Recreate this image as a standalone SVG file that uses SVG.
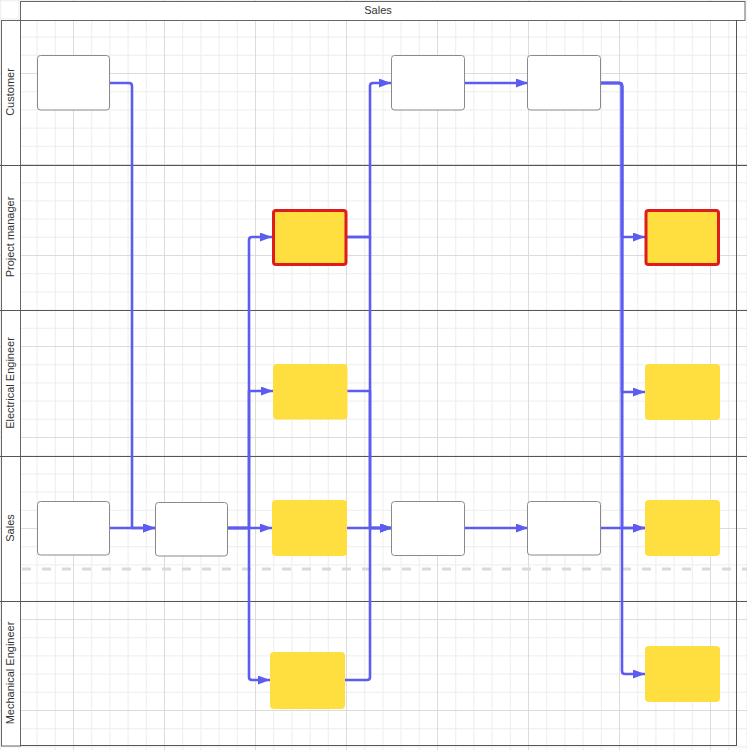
<svg xmlns="http://www.w3.org/2000/svg" width="747" height="750" viewBox="0 0 747 750">
<style>
.lbl{font-family:"Liberation Sans",Arial,sans-serif;font-size:11px;fill:#333;text-anchor:middle;dominant-baseline:central}
.wn{fill:#fff;stroke:#8a8a8a;stroke-width:1}
.yn{fill:#FFDF40;stroke:none}
.rn{fill:#FFDF40;stroke:#E01B1B;stroke-width:3}
.ln{stroke:#555;stroke-width:1;fill:none}
.cn{fill:none;stroke:#5d5cf0;stroke-width:2.6;stroke-linejoin:round;marker-end:url(#ah)}
</style>
<defs>
<pattern id="grid" patternUnits="userSpaceOnUse" x="73" y="73" width="91" height="91">
<rect x="0" y="0" width="91" height="91" fill="#fff"/>
<rect x="18.2" y="0" width="1" height="91" fill="#eeeeee"/>
<rect x="36.4" y="0" width="1" height="91" fill="#eeeeee"/>
<rect x="54.6" y="0" width="1" height="91" fill="#eeeeee"/>
<rect x="72.8" y="0" width="1" height="91" fill="#eeeeee"/>
<rect x="0" y="18.2" width="91" height="1" fill="#eeeeee"/>
<rect x="0" y="36.4" width="91" height="1" fill="#eeeeee"/>
<rect x="0" y="54.6" width="91" height="1" fill="#eeeeee"/>
<rect x="0" y="72.8" width="91" height="1" fill="#eeeeee"/>
<rect x="0" y="0" width="1" height="91" fill="#dcdcdc"/>
<rect x="0" y="0" width="91" height="1" fill="#dcdcdc"/>
</pattern>
<marker id="ah" markerUnits="userSpaceOnUse" markerWidth="12" markerHeight="9" refX="12" refY="4.5" orient="auto">
<path d="M0,0 L12,4.5 L0,9 Z" fill="#5d5cf0"/>
</marker>
</defs>
<rect x="0" y="0" width="747" height="750" fill="url(#grid)"/>
<g id="pool">
<rect x="20.5" y="1.5" width="724.5" height="19" fill="#fff" stroke="#666" stroke-width="1"/>
<text class="lbl" x="378" y="10">Sales</text>
<rect x="1.5" y="20.5" width="19" height="725.5" fill="#fff" stroke="#666" stroke-width="1"/>
<line class="ln" x1="736.5" y1="20" x2="736.5" y2="746"/>
<line class="ln" x1="20" y1="745.5" x2="737" y2="745.5"/>
<line class="ln" x1="0" y1="165.5" x2="747" y2="165.5"/>
<line class="ln" x1="0" y1="310.5" x2="747" y2="310.5"/>
<line class="ln" x1="0" y1="456.5" x2="747" y2="456.5"/>
<line class="ln" x1="0" y1="601.5" x2="747" y2="601.5"/>
<line x1="22" y1="569" x2="747" y2="569" stroke="#d9d9d9" stroke-width="3" stroke-dasharray="9,11"/>
<text class="lbl" transform="translate(10,92) rotate(-90)">Customer</text>
<text class="lbl" transform="translate(10,237) rotate(-90)">Project manager</text>
<text class="lbl" transform="translate(10,383) rotate(-90)">Electrical Engineer</text>
<text class="lbl" transform="translate(10,528) rotate(-90)">Sales</text>
<text class="lbl" transform="translate(10,673) rotate(-90)">Mechanical Engineer</text>
</g>
<g id="connectors">
<path class="cn" d="M110,83 H129 Q132,83 132,86 V528 H155"/>
<path class="cn" d="M110,528 H155"/>
<path class="cn" d="M228,528 H249 V240 Q249,237 252,237 H272"/>
<path class="cn" d="M228,528 H249 V391 H273"/>
<path class="cn" d="M228,528 H272"/>
<path class="cn" d="M228,528 H249 V677 Q249,680 252,680 H270"/>
<path class="cn" d="M347,237 H370 V86 Q370,83 373,83 H391"/>
<path class="cn" d="M347,237 H370 V528 H392"/>
<path class="cn" d="M347,391 H370 V528 H392"/>
<path class="cn" d="M347,528 H392"/>
<path class="cn" d="M345,680 H367 Q370,680 370,677 V528 H392"/>
<path class="cn" d="M464,83 H528"/>
<path class="cn" d="M464,528 H528"/>
<path class="cn" d="M600,83 H619 Q622,83 622,86 V237 H645"/>
<path class="cn" d="M600,83 H619 Q622,83 622,86 V392 H645"/>
<path class="cn" d="M600,83 H619 Q622,83 622,86 V528 H645"/>
<path class="cn" d="M600,83 H619 Q622,83 622,86 V671 Q622,674 625,674 H645"/>
<path class="cn" d="M600,528 H645"/>
</g>
<g id="c1"><rect class="wn" x="37.5" y="55.5" width="72" height="54.5" rx="3"/></g>
<g id="c2"><rect class="wn" x="391.5" y="55.5" width="73" height="54.5" rx="3"/></g>
<g id="c3"><rect class="wn" x="527.5" y="55.5" width="73" height="54.5" rx="3"/></g>
<g id="p1"><rect class="rn" x="273.5" y="210.5" width="72.5" height="54" rx="2.5"/></g>
<g id="p2"><rect class="rn" x="646" y="210.5" width="72.5" height="54" rx="2.5"/></g>
<g id="e1"><rect class="yn" x="273" y="364" width="74.5" height="55.5" rx="4"/></g>
<g id="e2"><rect class="yn" x="645" y="364" width="75" height="56" rx="4"/></g>
<g id="s1"><rect class="wn" x="37.5" y="501.5" width="72" height="53.5" rx="3"/></g>
<g id="s2"><rect class="wn" x="155.5" y="502.5" width="72" height="53.5" rx="3"/></g>
<g id="s3"><rect class="yn" x="272" y="500" width="75" height="56" rx="4"/></g>
<g id="s4"><rect class="wn" x="391.5" y="501.5" width="73" height="54" rx="3"/></g>
<g id="s5"><rect class="wn" x="527.5" y="501.5" width="73" height="53.5" rx="3"/></g>
<g id="s6"><rect class="yn" x="645" y="500" width="75" height="56" rx="4"/></g>
<g id="m1"><rect class="yn" x="270" y="652" width="75" height="57" rx="4"/></g>
<g id="m2"><rect class="yn" x="645" y="646" width="75" height="56" rx="4"/></g>
</svg>
